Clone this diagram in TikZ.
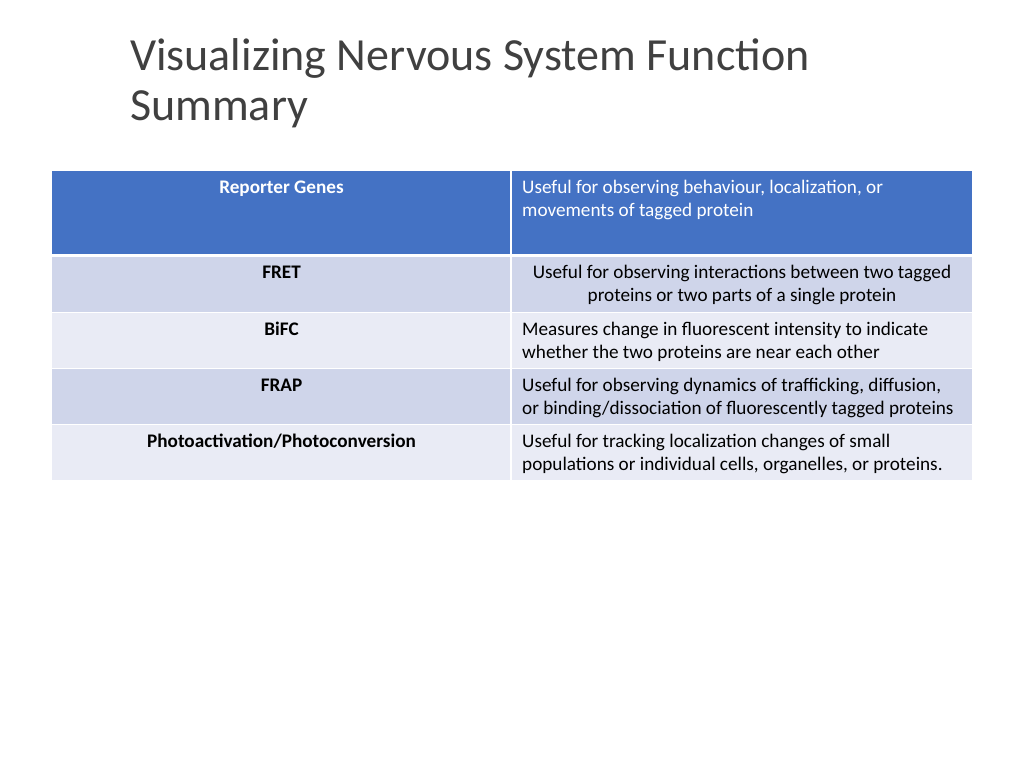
\documentclass[tikz,border=0pt]{standalone}
\usepackage{fontspec}
\setmainfont{Carlito}
\definecolor{hdr}{HTML}{4472C4}
\definecolor{rowa}{HTML}{CFD5EA}
\definecolor{rowb}{HTML}{E9EBF5}
\definecolor{ttl}{HTML}{404040}
\begin{document}
\begin{tikzpicture}[x=1pt,y=-1pt,
  lab/.style={font=\fontsize{19.2}{23}\selectfont\bfseries,anchor=base,inner sep=0pt},
  desc/.style={font=\fontsize{19.2}{23}\selectfont,anchor=base west,align=left,inner sep=0pt}]
\useasboundingbox (0,0) rectangle (1024,768);
\fill[white] (0,0) rectangle (1024,768);
\node[anchor=base west,inner sep=0pt,font=\fontsize{46}{50}\selectfont,text=ttl,align=left] (title) at (130,120) {Visualizing Nervous System Function\\Summary};
\fill[hdr] (52,171) rectangle (972,254);
\draw[white,line width=2pt] (511,171) -- (511,254);
\fill[rowa] (52,257) rectangle (972,312);
\fill[rowb] (52,313) rectangle (972,368);
\fill[rowa] (52,369) rectangle (972,424);
\fill[rowb] (52,425) rectangle (972,480);
\foreach \y in {312.5,368.5,424.5} \draw[white,line width=1.2pt] (52,\y) -- (972,\y);
\draw[white,line width=2pt] (511,257) -- (511,480);
\node[lab,text=white] (h1) at (281.5,193) {Reporter Genes};
\node[desc,text=white] (h2) at (522,216) {Useful for observing behaviour, localization, or\\movements of tagged protein};
\node[lab] (r1) at (281.5,278) {FRET};
\node[font=\fontsize{19.2}{23}\selectfont,anchor=base,align=center,inner sep=0pt] (d1) at (742,301) {Useful for observing interactions between two tagged\\proteins or two parts of a single protein};
\node[lab] (r2) at (281.5,335) {BiFC};
\node[desc] (d2) at (522,358) {Measures change in fluorescent intensity to indicate\\whether the two proteins are near each other};
\node[lab] (r3) at (281.5,391) {FRAP};
\node[desc] (d3) at (522,414) {Useful for observing dynamics of trafficking, diffusion,\\or binding/dissociation of fluorescently tagged proteins};
\node[lab] (r4) at (281.5,447) {Photoactivation/Photoconversion};
\node[desc] (d4) at (522,470) {Useful for tracking localization changes of small\\populations or individual cells, organelles, or proteins.};
\end{tikzpicture}
\end{document}
